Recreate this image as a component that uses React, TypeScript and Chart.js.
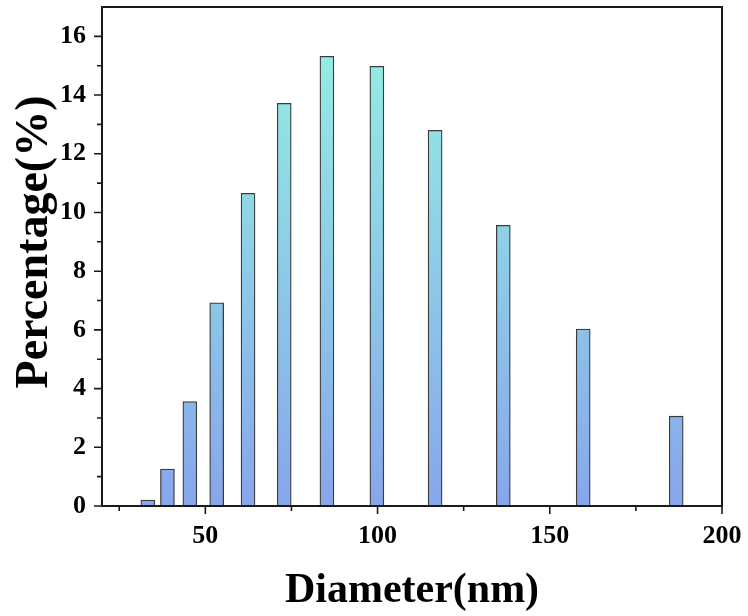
import React, { useEffect, useRef } from "react";
import { Chart, registerables } from "chart.js";

Chart.register(...registerables);

const diameters = [33.3, 39.0, 45.5, 53.3, 62.4, 72.9, 85.3, 99.8, 116.7, 136.5, 159.7, 186.7];
const percentages = [0.2, 1.26, 3.56, 6.92, 10.65, 13.72, 15.32, 14.98, 12.8, 9.56, 6.03, 3.06];
const xMajorTicks = [50, 100, 150, 200];
const xMinorTicks = [25, 75, 125, 175];
const yMajorTicks = [0, 2, 4, 6, 8, 10, 12, 14, 16];
const yMinorTicks = [1, 3, 5, 7, 9, 11, 13, 15];
const xTitle = "Diameter(nm)";
const yTitle = "Percentage(%)";

const FONT = "'Liberation Serif', 'Times New Roman', serif";

const framePlugin = {
  id: "frameTicks",
  afterDraw(chart: any) {
    const { ctx, chartArea } = chart;
    const { left, right, top, bottom } = chartArea;
    const xs = chart.scales.x;
    const ys = chart.scales.y;
    ctx.save();
    ctx.strokeStyle = "#1a1a1a";
    ctx.lineWidth = 1.6;
    ctx.beginPath();
    xMajorTicks.forEach((v) => {
      const p = xs.getPixelForValue(v);
      ctx.moveTo(p, bottom);
      ctx.lineTo(p, bottom + 8);
    });
    xMinorTicks.forEach((v) => {
      const p = xs.getPixelForValue(v);
      ctx.moveTo(p, bottom);
      ctx.lineTo(p, bottom + 5);
    });
    yMajorTicks.forEach((v) => {
      const p = ys.getPixelForValue(v);
      ctx.moveTo(left, p);
      ctx.lineTo(left - 8, p);
    });
    yMinorTicks.forEach((v) => {
      const p = ys.getPixelForValue(v);
      ctx.moveTo(left, p);
      ctx.lineTo(left - 5, p);
    });
    ctx.stroke();
    ctx.lineWidth = 2;
    ctx.strokeRect(left, top, right - left, bottom - top);

    // y-axis title
    ctx.translate(47, 242);
    ctx.rotate(-Math.PI / 2);
    ctx.fillStyle = "#000";
    ctx.font = `bold 46px ${FONT}`;
    ctx.textAlign = "center";
    ctx.textBaseline = "alphabetic";
    ctx.fillText(yTitle, 0, 0);
    ctx.restore();
  },
};

function zeroPad(s: any) {
  s.paddingTop = 0;
  s.paddingBottom = 0;
  s.paddingLeft = 0;
  s.paddingRight = 0;
}

export default function App() {
  const ref = useRef<HTMLCanvasElement>(null);
  useEffect(() => {
    const canvas = ref.current!;
    const chart = new Chart(canvas, {
      type: "bar",
      data: {
        datasets: [
          {
            data: diameters.map((d, i) => ({ x: d, y: percentages[i] })),
            backgroundColor: (c: any) => {
              const { chart } = c;
              const area = chart.chartArea;
              if (!area) return "#8dc5e6";
              const ys = chart.scales.y;
              const g = chart.ctx.createLinearGradient(0, ys.getPixelForValue(0), 0, ys.getPixelForValue(15.5));
              g.addColorStop(0, "#87a6ec");
              g.addColorStop(1, "#93ede3");
              return g;
            },
            borderColor: "#3c3c3c",
            borderWidth: 1.3,
            borderSkipped: false,
            barThickness: 14,
          } as any,
        ],
      },
      options: {
        responsive: false,
        animation: false,
        layout: { padding: { top: 7, right: 26, left: 0, bottom: 0 } },
        plugins: { legend: { display: false }, tooltip: { enabled: false } },
        scales: {
          x: {
            type: "linear",
            min: 20,
            max: 200,
            offset: false,
            grid: { display: false },
            border: { display: false },
            afterBuildTicks: (s: any) => {
              s.ticks = xMajorTicks.map((v) => ({ value: v }));
            },
            afterFit: (s: any) => {
              s.height = 110;
              zeroPad(s);
            },
            ticks: {
              padding: 7,
              color: "#000",
              maxRotation: 0,
              font: { family: FONT, size: 26, weight: "bold" },
            },
            title: {
              display: true,
              text: xTitle,
              color: "#000",
              padding: { top: 0, bottom: 0 },
              font: { family: FONT, size: 42, weight: "bold" },
            },
          },
          y: {
            type: "linear",
            min: 0,
            max: 17,
            grid: { display: false },
            border: { display: false },
            afterBuildTicks: (s: any) => {
              s.ticks = yMajorTicks.map((v) => ({ value: v }));
            },
            afterFit: (s: any) => {
              s.width = 102;
              zeroPad(s);
            },
            ticks: {
              padding: 8,
              color: "#000",
              font: { family: FONT, size: 26, weight: "bold" },
            },
            title: { display: false },
          },
        },
      },
      plugins: [framePlugin],
    } as any);
    return () => chart.destroy();
  }, []);
  return (
    <div style={{ position: "fixed", left: 0, top: 0, width: 748, height: 616, background: "#fff" }}>
      <canvas ref={ref} width={748} height={616} />
    </div>
  );
}
